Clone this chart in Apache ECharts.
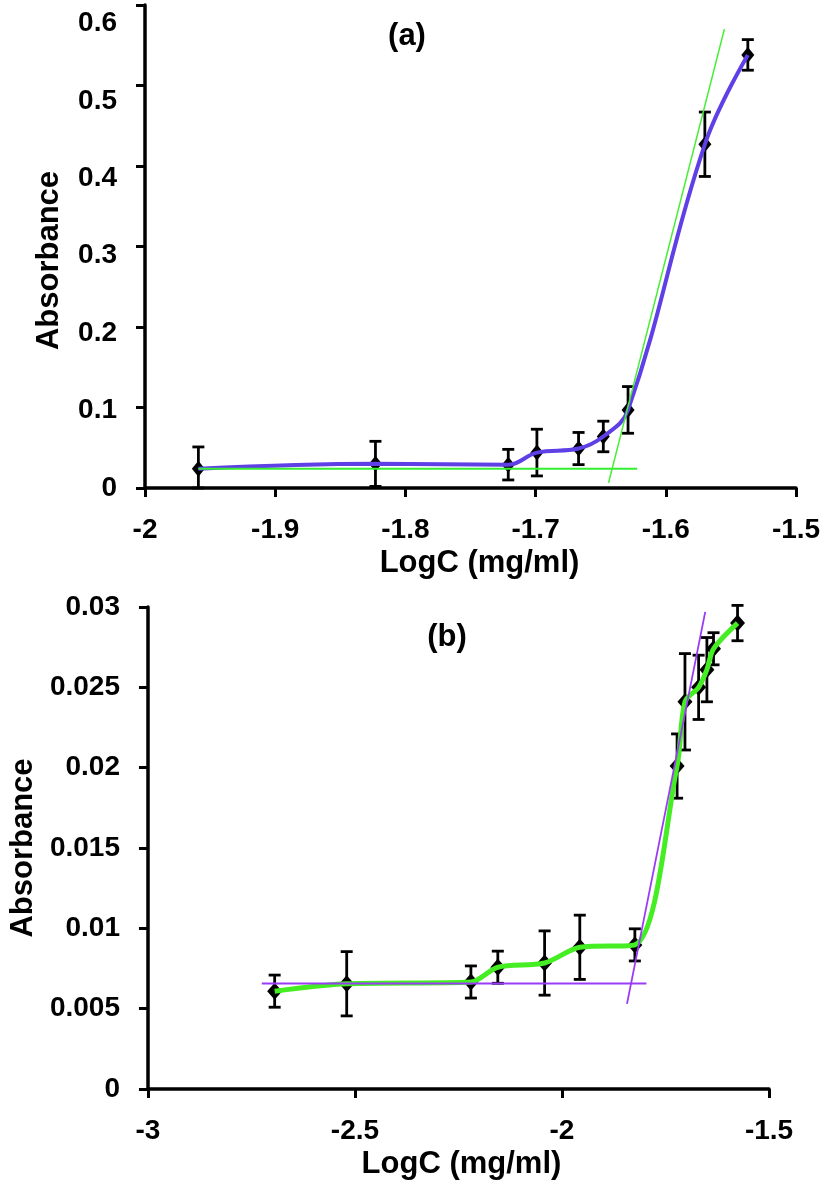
<!DOCTYPE html>
<html>
<head>
<meta charset="utf-8">
<script src="https://cdn.jsdelivr.net/npm/echarts@6/dist/echarts.min.js"></script>
<style>
html,body{margin:0;padding:0;background:#fff;}
#chart{width:827px;height:1188px;}
</style>
</head>
<body>
<div id="chart"></div>
<script>
// ---------- Panel (a) ----------
const xA   = [-1.959, -1.823, -1.721, -1.699, -1.667, -1.648, -1.629, -1.570, -1.537];
const yA   = [0.024, 0.030, 0.029, 0.044, 0.049, 0.064, 0.097, 0.427, 0.538];
const errA = [0.027, 0.028, 0.019, 0.029, 0.020, 0.019, 0.029, 0.040, 0.019];
const baseAX = [-1.959, -1.622];
const baseAY = [0.024, 0.024];
const slopeAX = [-1.644, -1.555];
const slopeAY = [0.0064, 0.570];
const xTicksA = [-2, -1.9, -1.8, -1.7, -1.6, -1.5];
const yTicksA = [0, 0.1, 0.2, 0.3, 0.4, 0.5, 0.6];

// ---------- Panel (b) ----------
const xB   = [-2.694, -2.520, -2.220, -2.155, -2.042, -1.957, -1.824, -1.722, -1.703, -1.670, -1.650, -1.634, -1.576];
const yB   = [0.00609, 0.00655, 0.00666, 0.00758, 0.00784, 0.00882, 0.00897, 0.0201, 0.0241, 0.0250, 0.0261, 0.0274, 0.0290];
const errB = [0.0010, 0.0020, 0.0010, 0.0010, 0.0020, 0.0020, 0.0010, 0.0020, 0.0030, 0.0020, 0.0020, 0.0010, 0.0011];
const baseBX = [-2.725, -1.796];
const baseBY = [0.00657, 0.00657];
const slopeBX = [-1.843, -1.654];
const slopeBY = [0.0053, 0.0297];
const xTicksB = [-3, -2.5, -2, -1.5];
const yTicksB = [0, 0.005, 0.01, 0.015, 0.02, 0.025, 0.03];

const zip = (xs, ys) => xs.map((x, i) => [x, ys[i]]);
const zip3 = (xs, ys, es) => xs.map((x, i) => [x, ys[i], es[i]]);
const fmt = v => String(parseFloat(Number(v).toFixed(4)));
const FONT = '"Liberation Sans", Arial, sans-serif';

function errRender(capW) {
  return function (params, api) {
    const x = api.value(0), y = api.value(1), e = api.value(2);
    const hi = api.coord([x, y + e]);
    const lo = api.coord([x, Math.max(y - e, 0)]);
    const st = { stroke: '#000', lineWidth: 2.8 };
    return {
      type: 'group',
      children: [
        { type: 'line', shape: { x1: hi[0], y1: hi[1], x2: lo[0], y2: lo[1] }, style: st },
        { type: 'line', shape: { x1: hi[0] - capW, y1: hi[1], x2: hi[0] + capW, y2: hi[1] }, style: st },
        { type: 'line', shape: { x1: lo[0] - capW, y1: lo[1], x2: lo[0] + capW, y2: lo[1] }, style: st }
      ]
    };
  };
}

const axisLineStyle = { show: true, onZero: false, lineStyle: { color: '#000', width: 3.5 } };
const axisTickStyle = { show: true, length: 9, lineStyle: { color: '#000', width: 3 } };
const labelStyle = { color: '#000', fontSize: 28, fontWeight: 'bold', fontFamily: FONT };
const nameStyle = { color: '#000', fontSize: 31, fontWeight: 'bold', fontFamily: FONT };

function step(t) { return t[1] - t[0]; }

const option = {
  backgroundColor: '#fff',
  animation: false,
  grid: [
    { left: 145, top: 5, width: 651, height: 483 },
    { left: 145, top: 607, width: 624, height: 482 }
  ],
  xAxis: [
    {
      type: 'value', gridIndex: 0,
      min: xTicksA[0], max: xTicksA[xTicksA.length - 1], interval: +step(xTicksA).toFixed(4),
      axisLine: axisLineStyle, axisTick: axisTickStyle,
      axisLabel: Object.assign({ margin: 28, formatter: fmt }, labelStyle),
      splitLine: { show: false },
      name: 'LogC (mg/ml)', nameLocation: 'middle', nameGap: 60,
      nameTextStyle: Object.assign({ padding: [0, 0, 0, 18] }, nameStyle)
    },
    {
      type: 'value', gridIndex: 1,
      min: xTicksB[0], max: xTicksB[xTicksB.length - 1], interval: +step(xTicksB).toFixed(4),
      axisLine: axisLineStyle, axisTick: axisTickStyle,
      axisLabel: Object.assign({ margin: 28, formatter: fmt }, labelStyle),
      splitLine: { show: false },
      name: 'LogC (mg/ml)', nameLocation: 'middle', nameGap: 60,
      nameTextStyle: Object.assign({ padding: [0, 0, 0, 6] }, nameStyle)
    }
  ],
  yAxis: [
    {
      type: 'value', gridIndex: 0,
      min: yTicksA[0], max: yTicksA[yTicksA.length - 1], interval: +step(yTicksA).toFixed(4),
      axisLine: axisLineStyle, axisTick: axisTickStyle,
      axisLabel: { show: false },
      splitLine: { show: false },
      name: 'Absorbance', nameLocation: 'middle', nameGap: 80, nameRotate: 90,
      nameTextStyle: Object.assign({ padding: [0, 28, 0, 0] }, nameStyle)
    },
    {
      type: 'value', gridIndex: 1,
      min: yTicksB[0], max: yTicksB[yTicksB.length - 1], interval: +step(yTicksB).toFixed(4),
      axisLine: axisLineStyle, axisTick: axisTickStyle,
      axisLabel: Object.assign({ margin: 28, formatter: fmt }, labelStyle),
      splitLine: { show: false },
      name: 'Absorbance', nameLocation: 'middle', nameGap: 105, nameRotate: 90,
      nameTextStyle: nameStyle
    },
    {
      // label-only axis for panel (a): labels sit slightly below their ticks in the original
      type: 'value', gridIndex: 0, position: 'left',
      min: yTicksA[0], max: yTicksA[yTicksA.length - 1] * 483 / 464.5, interval: +step(yTicksA).toFixed(4),
      axisLine: { show: false }, axisTick: { show: false },
      axisLabel: Object.assign({ margin: 28, showMaxLabel: false, formatter: fmt }, labelStyle),
      splitLine: { show: false }
    }
  ],
  graphic: [
    { type: 'text', x: 407, y: 36, style: { text: '(a)', fill: '#000', font: 'bold 31px ' + FONT, textAlign: 'center', textVerticalAlign: 'middle' } },
    { type: 'text', x: 447, y: 637, style: { text: '(b)', fill: '#000', font: 'bold 31px ' + FONT, textAlign: 'center', textVerticalAlign: 'middle' } }
  ],
  series: [
    // ----- panel (a)
    {
      type: 'line', xAxisIndex: 0, yAxisIndex: 0, data: zip(xA, yA),
      smooth: 0.4, showSymbol: false, symbol: 'none',
      lineStyle: { color: '#5f3fe6', width: 4 }
    },
    {
      type: 'line', xAxisIndex: 0, yAxisIndex: 0, data: zip(baseAX, baseAY),
      showSymbol: false, symbol: 'none', lineStyle: { color: '#33ee33', width: 2 }
    },
    {
      type: 'line', xAxisIndex: 0, yAxisIndex: 0, data: zip(slopeAX, slopeAY),
      showSymbol: false, symbol: 'none', lineStyle: { color: '#44ee33', width: 1.5 }
    },
    {
      type: 'custom', xAxisIndex: 0, yAxisIndex: 0, data: zip3(xA, yA, errA),
      encode: { x: 0, y: 1 }, renderItem: errRender(6)
    },
    {
      type: 'scatter', xAxisIndex: 0, yAxisIndex: 0, data: zip(xA, yA),
      symbol: 'diamond', symbolSize: [13, 16], itemStyle: { color: '#000', opacity: 1 }
    },
    // ----- panel (b)
    {
      type: 'line', xAxisIndex: 1, yAxisIndex: 1, data: zip(xB, yB),
      smooth: 0.3, showSymbol: false, symbol: 'none',
      lineStyle: { color: '#44ee22', width: 5 }
    },
    {
      type: 'line', xAxisIndex: 1, yAxisIndex: 1, data: zip(baseBX, baseBY),
      showSymbol: false, symbol: 'none', lineStyle: { color: '#9a3cf5', width: 2 }
    },
    {
      type: 'line', xAxisIndex: 1, yAxisIndex: 1, data: zip(slopeBX, slopeBY),
      showSymbol: false, symbol: 'none', lineStyle: { color: '#9a3cf5', width: 1.8 }
    },
    {
      type: 'custom', xAxisIndex: 1, yAxisIndex: 1, data: zip3(xB, yB, errB),
      encode: { x: 0, y: 1 }, renderItem: errRender(6)
    },
    {
      type: 'scatter', xAxisIndex: 1, yAxisIndex: 1, data: zip(xB, yB),
      symbol: 'diamond', symbolSize: [15, 17], itemStyle: { color: '#000', opacity: 1 }
    }
  ]
};

const chart = echarts.init(document.getElementById('chart'), null, { renderer: 'canvas' });
chart.setOption(option);
</script>
</body>
</html>
